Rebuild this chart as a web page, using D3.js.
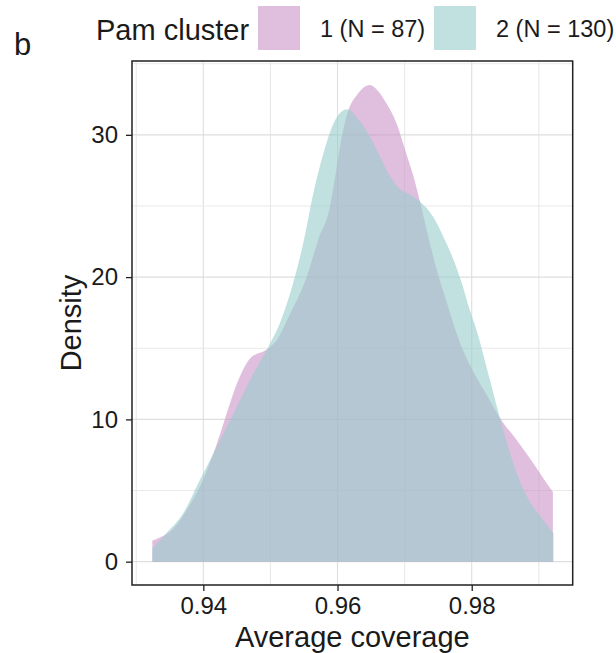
<!DOCTYPE html>
<html>
<head>
<meta charset="utf-8">
<script src="https://cdn.jsdelivr.net/npm/d3@7"></script>
<style>
  body { margin: 0; background: #fff; }
  text { font-family: "Liberation Sans", Arial, sans-serif; fill: #1a1a1a; }
</style>
</head>
<body>
<svg class="densityPlot" width="616" height="653"></svg>
<script>
// tick values
const xTicks = [0.94, 0.96, 0.98];
const xMinorTicks = [0.93, 0.95, 0.97, 0.99];
const yTicks = [0, 10, 20, 30];
const yMinorTicks = [5, 15, 25, 35];

// legend
const legendTitle = "Pam cluster";
const clusterLabels = ["1 (N = 87)", "2 (N = 130)"];
const clusterColors = ["#cb93c8", "#96cdca"];

// density curves
const cluster1X = [0.9324, 0.9335, 0.9355, 0.9380, 0.9400, 0.9415, 0.9432, 0.9450, 0.9470, 0.9494,
    0.9510, 0.9527, 0.9554, 0.9571, 0.9589, 0.9598, 0.9607, 0.9616, 0.9629, 0.9648, 0.9660, 0.9673,
    0.9688, 0.9701, 0.9713, 0.9723, 0.9733, 0.9748, 0.9763, 0.9780, 0.9804, 0.9824, 0.9842, 0.9867,
    0.9892, 0.9912, 0.9921];
const cluster1Density = [1.48, 1.70, 2.3, 4.0, 5.8, 7.6, 10.0, 12.5, 14.3, 14.9,
    15.6, 17.2, 20.0, 22.6, 25.0, 27.5, 30.0, 31.7, 32.8, 33.5, 33.1, 32.2,
    30.8, 28.9, 27.1, 25.3, 23.3, 20.5, 18.2, 15.7, 13.2, 11.6, 10.1, 8.55,
    6.9, 5.5, 4.9];

const cluster2X = [0.9324, 0.9345, 0.9370, 0.9395, 0.9415, 0.9445, 0.9470, 0.9497, 0.9514, 0.9534,
    0.9549, 0.9564, 0.9579, 0.9594, 0.9614, 0.9634, 0.9648, 0.9663, 0.9678, 0.9693, 0.9708, 0.9723,
    0.9743, 0.9758, 0.9773, 0.9785, 0.9797, 0.9807, 0.9827, 0.9842, 0.9862, 0.9882, 0.9902, 0.9922];
const cluster2Density = [0.94, 2.0, 3.4, 5.75, 7.6, 10.4, 12.8, 15.1, 16.75, 19.6,
    22.4, 25.9, 28.7, 30.8, 31.8, 30.9, 29.9, 28.5, 27.1, 26.2, 25.8, 25.3,
    24.2, 22.8, 21.2, 19.6, 17.7, 16.3, 12.8, 10.1, 6.9, 4.6, 3.2, 2.0];

function densityPlot() {
    const svg = d3.select(".densityPlot");

    const left = 132, right = 572.7, top = 61, bottom = 585;

    const x = d3.scaleLinear().domain([0.92937, 0.99505]).range([left, right]);
    const y = d3.scaleLinear().domain([-1.64, 35.19]).range([bottom, top]);

    // grid lines
    const grid = svg.append("g");
    xMinorTicks.concat(xTicks).forEach(t => {
        grid.append("line")
            .attr("x1", x(t)).attr("x2", x(t))
            .attr("y1", top).attr("y2", bottom)
            .attr("stroke", xTicks.includes(t) ? "#dedede" : "#e9e9e9")
            .attr("stroke-width", 1.1);
    });
    yMinorTicks.concat(yTicks).forEach(t => {
        grid.append("line")
            .attr("x1", left).attr("x2", right)
            .attr("y1", y(t)).attr("y2", y(t))
            .attr("stroke", yTicks.includes(t) ? "#dedede" : "#e9e9e9")
            .attr("stroke-width", 1.1);
    });

    // density areas
    const series = [
        cluster1X.map((v, i) => [v, cluster1Density[i]]),
        cluster2X.map((v, i) => [v, cluster2Density[i]])
    ];
    const area = d3.area()
        .x(d => x(d[0]))
        .y0(y(0))
        .y1(d => y(d[1]))
        .curve(d3.curveMonotoneX);

    series.forEach((pts, i) => {
        svg.append("path")
            .attr("d", area(pts))
            .attr("fill", clusterColors[i])
            .attr("fill-opacity", 0.6);
    });

    // panel border
    svg.append("rect")
        .attr("x", left).attr("y", top)
        .attr("width", right - left).attr("height", bottom - top)
        .attr("fill", "none")
        .attr("stroke", "#231f20")
        .attr("stroke-width", 1.5);

    // axes
    const xAxis = svg.append("g")
        .attr("transform", `translate(0,${bottom})`)
        .call(d3.axisBottom(x).tickValues(xTicks).tickFormat(d3.format(".2f")).tickSizeInner(6).tickSizeOuter(0));
    const yAxis = svg.append("g")
        .attr("transform", `translate(${left},0)`)
        .call(d3.axisLeft(y).tickValues(yTicks).tickSizeInner(6).tickSizeOuter(0));

    [xAxis, yAxis].forEach(a => {
        a.select(".domain").remove();
        a.selectAll(".tick line").attr("stroke", "#231f20").attr("stroke-width", 1.3);
        a.selectAll(".tick text")
            .style("font-family", "'Liberation Sans', Arial, sans-serif")
            .style("font-size", "24px")
            .attr("fill", "#1a1a1a");
    });
    xAxis.selectAll(".tick text").attr("y", 12).attr("dy", "0.71em");
    yAxis.selectAll(".tick text").attr("x", -14);

    // axis titles
    svg.append("text")
        .attr("x", (left + right) / 2)
        .attr("y", 647)
        .attr("text-anchor", "middle")
        .style("font-size", "29px")
        .text("Average coverage");

    svg.append("text")
        .attr("transform", `translate(81, ${(top + bottom) / 2}) rotate(-90)`)
        .attr("text-anchor", "middle")
        .style("font-size", "29px")
        .text("Density");

    // panel tag
    svg.append("text")
        .attr("x", 14).attr("y", 55)
        .style("font-size", "31px")
        .text("b");

    // legend
    svg.append("text")
        .attr("x", 96).attr("y", 30)
        .attr("dy", "0.35em")
        .style("font-size", "29px")
        .text(legendTitle);

    const keyX = [258, 434];
    clusterLabels.forEach((label, i) => {
        svg.append("rect")
            .attr("x", keyX[i]).attr("y", 6)
            .attr("width", 42).attr("height", 44)
            .attr("fill", clusterColors[i])
            .attr("fill-opacity", 0.6);
        svg.append("text")
            .attr("x", keyX[i] + 62).attr("y", 29)
            .attr("dy", "0.35em")
            .style("font-size", "23.5px")
            .text(label);
    });
}

densityPlot();
</script>
</body>
</html>
